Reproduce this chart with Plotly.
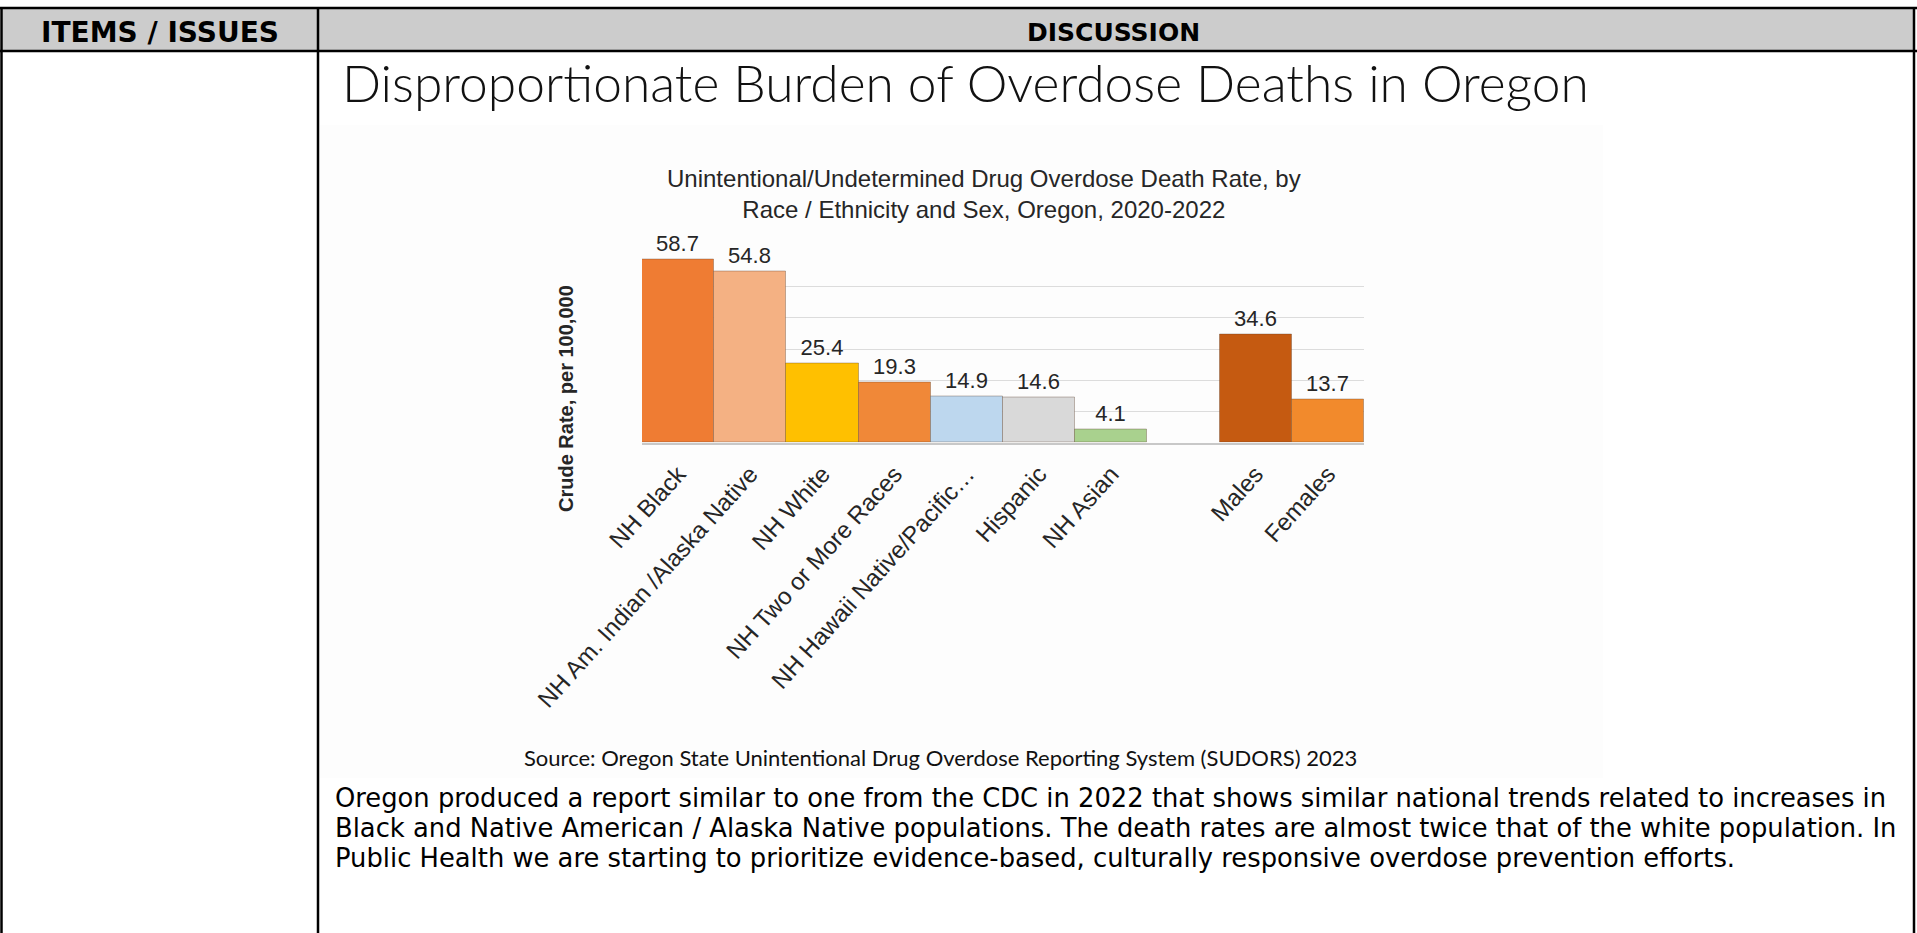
import plotly.graph_objects as go

# ---- data -------------------------------------------------------------
categories = [
    "NH Black",
    "NH Am. Indian /Alaska Native",
    "NH White",
    "NH Two or More Races",
    "NH Hawaii Native/Pacific…",
    "Hispanic",
    "NH Asian",
    " ",
    "Males",
    "Females",
]
rates = [58.7, 54.8, 25.4, 19.3, 14.9, 14.6, 4.1, None, 34.6, 13.7]
bar_colors = [
    "#EF7C33", "#F4B183", "#FFC000", "#F08838", "#BDD7EE",
    "#D9D9D9", "#A9D18E", "#FFFFFF", "#C55A11", "#F28A2C",
]

chart_title = ("Unintentional/Undetermined Drug Overdose Death Rate, by<br>"
               "Race / Ethnicity and Sex, Oregon, 2020-2022")
y_title = "Crude Rate, per 100,000"
page_title = "Disproportionate Burden of Overdose Deaths in Oregon"
source_note = "Source: Oregon State Unintentional Drug Overdose Reporting System (SUDORS) 2023"
body_lines = [
    "Oregon produced a report similar to one from the CDC in 2022 that shows similar national trends related to increases in",
    "Black and Native American / Alaska Native populations. The death rates are almost twice that of the white population. In",
    "Public Health we are starting to prioritize evidence-based, culturally responsive overdose prevention efforts.",
]

# ---- page geometry helpers (pixels -> paper fractions) ------------------
W, H = 1917, 933


def px(x):
    return x / W


def py(y):
    return 1 - y / H


fig = go.Figure()

fig.add_trace(go.Bar(
    x=categories,
    y=rates,
    marker=dict(color=bar_colors, line=dict(color="rgba(90,60,40,0.35)", width=1)),
    texttemplate="%{y:.1f}",
    textposition="outside",
    cliponaxis=False,
    textfont=dict(family="Liberation Sans, Arial, sans-serif", size=22, color="#262626"),
    hoverinfo="x+y",
    showlegend=False,
))

shapes = []
# faint backdrop behind the embedded chart picture
shapes.append(dict(type="rect", xref="paper", yref="paper",
                   x0=px(320), x1=px(1603), y0=py(778), y1=py(125),
                   fillcolor="#FDFDFD", line=dict(width=0), layer="below"))
# table header band
shapes.append(dict(type="rect", xref="paper", yref="paper",
                   x0=px(1), x1=px(1915), y0=py(51), y1=py(8),
                   fillcolor="#CCCCCC", line=dict(width=0), layer="below"))
# table rules
line_style = dict(color="#000000", width=2.5)
shapes += [
    dict(type="line", xref="paper", yref="paper", x0=px(0), x1=px(1917), y0=py(8), y1=py(8), line=line_style),
    dict(type="line", xref="paper", yref="paper", x0=px(0), x1=px(1917), y0=py(51), y1=py(51), line=line_style),
    dict(type="line", xref="paper", yref="paper", x0=px(1.5), x1=px(1.5), y0=py(8), y1=py(933), line=line_style),
    dict(type="line", xref="paper", yref="paper", x0=px(318), x1=px(318), y0=py(8), y1=py(933), line=line_style),
    dict(type="line", xref="paper", yref="paper", x0=px(1914), x1=px(1914), y0=py(8), y1=py(933), line=line_style),
]

annotations = [
    dict(text="<b>ITEMS / ISSUES</b>", x=px(160), y=py(32),
         font=dict(family="DejaVu Sans, Verdana, sans-serif", size=28, color="#000000", weight="bold")),
    dict(text="<b>DISCUSSION</b>", x=px(1113), y=py(32),
         font=dict(family="DejaVu Sans, Verdana, sans-serif", size=25, color="#000000", weight="bold")),
    dict(text=page_title, x=px(340), y=py(82), xanchor="left",
         font=dict(family="Lato, Open Sans, sans-serif", size=51.5, color="#111111", weight=300)),
    dict(text=chart_title, x=px(984), y=py(194),
         font=dict(family="Liberation Sans, Arial, sans-serif", size=24, color="#262626")),
    dict(text="<b>" + y_title + "</b>", x=px(566), y=py(399), textangle=-90,
         font=dict(family="Liberation Sans, Arial, sans-serif", size=20, color="#262626")),
    dict(text=source_note, x=px(940), y=py(757),
         font=dict(family="Lato, Open Sans, sans-serif", size=22, color="#111111")),
]
for i, line in enumerate(body_lines):
    annotations.append(dict(text=line, x=px(333), y=py(798 + 30 * i), xanchor="left",
                            font=dict(family="DejaVu Sans, Verdana, sans-serif", size=25.8, color="#000000")))
for a in annotations:
    a.setdefault("xref", "paper")
    a.setdefault("yref", "paper")
    a.setdefault("showarrow", False)
    a.setdefault("xanchor", "center")
    a.setdefault("yanchor", "middle")

fig.update_layout(
    width=W,
    height=H,
    margin=dict(l=0, r=0, t=0, b=0, autoexpand=False),
    paper_bgcolor="#FFFFFF",
    plot_bgcolor="rgba(0,0,0,0)",
    bargap=0,
    shapes=shapes,
    annotations=annotations,
    xaxis=dict(
        domain=[px(642), px(1364)],
        type="category",
        categoryorder="array",
        categoryarray=categories,
        range=[-0.5, len(categories) - 0.5],
        tickangle=-48,
        tickfont=dict(family="Liberation Sans, Arial, sans-serif", size=24, color="#262626"),
        showline=True,
        linecolor="#C8C8C8",
        linewidth=2,
        ticks="",
        ticklabelstandoff=6,
        showgrid=False,
        automargin=False,
        fixedrange=True,
    ),
    yaxis=dict(
        domain=[py(442.6), py(255.5)],
        range=[0, 60],
        dtick=10,
        showgrid=True,
        gridcolor="#DCDCDC",
        gridwidth=1,
        zeroline=False,
        showticklabels=False,
        showline=False,
        automargin=False,
        fixedrange=True,
    ),
)

fig.write_html("out.html")
